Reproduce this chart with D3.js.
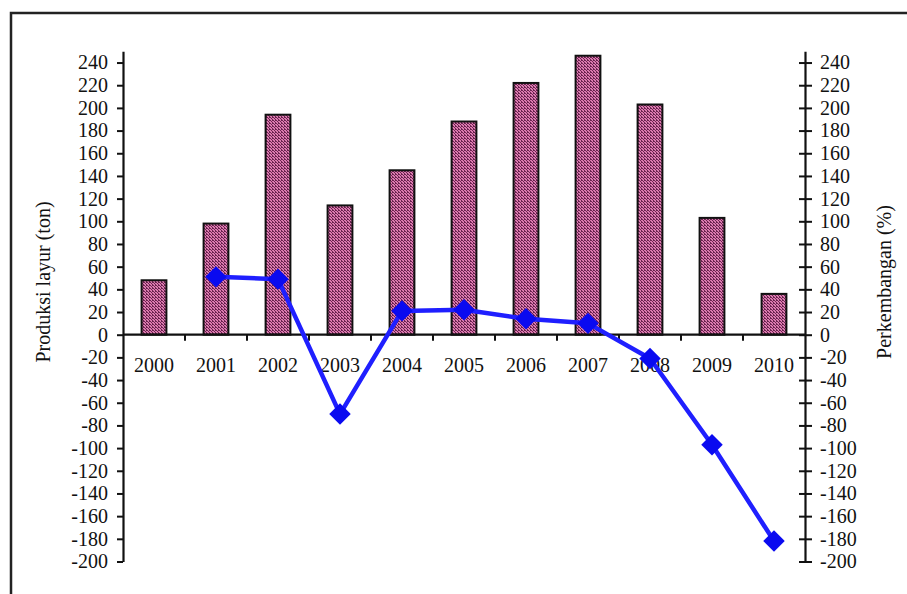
<!DOCTYPE html>
<html>
<head>
<meta charset="utf-8">
<script src="https://cdn.jsdelivr.net/npm/d3@7"></script>
<style>
  html, body { margin: 0; padding: 0; background: #ffffff; }
  svg { display: block; }
  text { font-family: "Liberation Serif", "Times New Roman", serif; fill: #111; }
</style>
</head>
<body>
<svg id="chart" width="907" height="594"></svg>
<script>
// ---- data ----
const years = ["2000", "2001", "2002", "2003", "2004", "2005", "2006", "2007", "2008", "2009", "2010"];
const production = [48, 98, 194, 114, 145, 188, 222, 246, 203, 103, 36];       // Produksi layur (ton)
const growth = [null, 51, 49, -70, 21, 22, 14, 10, -21, -97, -182];            // Perkembangan (%)
const yTickValues = [240, 220, 200, 180, 160, 140, 120, 100, 80, 60, 40, 20, 0,
  -20, -40, -60, -80, -100, -120, -140, -160, -180, -200];
const leftTitle = "Produksi layur (ton)";
const rightTitle = "Perkembangan (%)";

// ---- layout ----
const plot = { left: 123, right: 805, top: 51.2, bottom: 561.5 };
const svg = d3.select("#chart");

// frame
svg.append("rect")
  .attr("x", 11).attr("y", 13).attr("width", 1000).attr("height", 1000)
  .attr("fill", "none").attr("stroke", "#222").attr("stroke-width", 2.5);

// pattern for bars
const defs = svg.append("defs");
const pat = defs.append("pattern")
  .attr("id", "hatch").attr("patternUnits", "userSpaceOnUse")
  .attr("width", 3).attr("height", 3);
pat.append("rect").attr("width", 3).attr("height", 3).attr("fill", "#dc7aaf");
pat.append("path").attr("d", "M0,0h1v1h-1z M1,1h1v1h-1z M2,2h1v1h-1z M2,0h1v1h-1z")
  .attr("fill", "#6b2450");

// scales
const x = d3.scaleBand().domain(years).range([plot.left, plot.right])
  .paddingInner(0.6).paddingOuter(0.3);
const xb = d3.scaleLinear().domain([0, years.length]).range([plot.left, plot.right]);
const y = d3.scaleLinear().domain([-200, 250]).range([plot.bottom, plot.top]);

const fontSize = 20;

// left axis
const gL = svg.append("g").attr("transform", `translate(${plot.left},0)`)
  .call(d3.axisLeft(y).tickValues(yTickValues).tickSizeInner(6).tickSizeOuter(0).tickPadding(9)
    .tickFormat(d => d));
gL.select(".domain").attr("stroke", "#111").attr("stroke-width", 2.2);
gL.selectAll(".tick line").attr("stroke", "#111").attr("stroke-width", 2);
gL.selectAll(".tick text").attr("font-size", fontSize).attr("font-family", "Liberation Serif, serif").attr("fill", "#111");

// right axis (cross ticks)
const gR = svg.append("g").attr("transform", `translate(${plot.right},0)`)
  .call(d3.axisRight(y).tickValues(yTickValues).tickSizeInner(7).tickSizeOuter(0).tickPadding(8)
    .tickFormat(d => d));
gR.select(".domain").attr("stroke", "#111").attr("stroke-width", 2.2);
gR.selectAll(".tick line").attr("x1", -6).attr("stroke", "#111").attr("stroke-width", 2);
gR.selectAll(".tick text").attr("font-size", fontSize).attr("font-family", "Liberation Serif, serif").attr("fill", "#111");

// bars
svg.append("g").selectAll("rect").data(production).join("rect")
  .attr("x", (d, i) => x(years[i]))
  .attr("y", d => y(d))
  .attr("width", x.bandwidth())
  .attr("height", d => y(0) - y(d))
  .attr("fill", "url(#hatch)")
  .attr("stroke", "#111").attr("stroke-width", 2);

// category axis at zero
const gX = svg.append("g");
gX.append("line")
  .attr("x1", plot.left).attr("x2", plot.right)
  .attr("y1", y(0)).attr("y2", y(0))
  .attr("stroke", "#111").attr("stroke-width", 2.2);
gX.selectAll("line.tk").data(d3.range(1, years.length)).join("line")
  .attr("class", "tk")
  .attr("x1", d => xb(d)).attr("x2", d => xb(d))
  .attr("y1", y(0)).attr("y2", y(0) + 6)
  .attr("stroke", "#111").attr("stroke-width", 2);
gX.selectAll("text").data(years).join("text")
  .attr("x", d => x(d) + x.bandwidth() / 2)
  .attr("y", y(0) + 37)
  .attr("text-anchor", "middle")
  .attr("font-size", fontSize)
  .text(d => d);

// growth line
const cx = (i) => x(years[i]) + x.bandwidth() / 2;
const line = d3.line()
  .defined(d => d != null)
  .x((d, i) => cx(i))
  .y(d => y(d));
svg.append("path").datum(growth)
  .attr("d", line)
  .attr("fill", "none").attr("stroke", "#1f1fff").attr("stroke-width", 4.5)
  .attr("stroke-linejoin", "round");
svg.append("g").selectAll("path").data(growth.map((v, i) => ({ v, i })).filter(d => d.v != null))
  .join("path")
  .attr("d", d3.symbol().type(d3.symbolSquare).size(230))
  .attr("transform", d => `translate(${cx(d.i)},${y(d.v)}) rotate(45)`)
  .attr("fill", "#0a0af0");

// titles
svg.append("text")
  .attr("transform", `translate(50,282) rotate(-90)`)
  .attr("text-anchor", "middle")
  .attr("font-size", fontSize)
  .text(leftTitle);
svg.append("text")
  .attr("transform", `translate(891,282) rotate(-90)`)
  .attr("text-anchor", "middle")
  .attr("font-size", fontSize)
  .text(rightTitle);
</script>
</body>
</html>
